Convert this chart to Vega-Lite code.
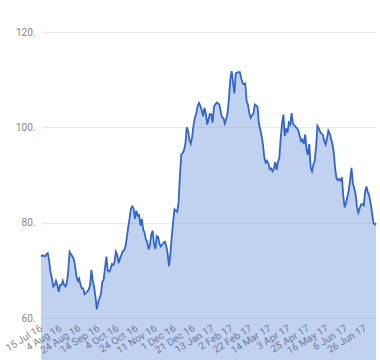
{
  "$schema": "https://vega.github.io/schema/vega-lite/v6.json",
  "width": 335,
  "height": 286,
  "autosize": {"type": "none"},
  "padding": {"left": 41, "top": 32, "right": 4, "bottom": 42},
  "background": "white",
  "config": {
    "view": {"stroke": null},
    "font": "Roboto",
    "axis": {"labelFont": "Roboto", "labelFontSize": 10, "labelColor": "#888888"}
  },
  "data": {"values": [
    {"d":"15 Jul 16","v":72.9},{"d":"18 Jul 16","v":73.2},{"d":"19 Jul 16","v":73.0},{"d":"20 Jul 16","v":72.9},{"d":"21 Jul 16","v":73.4},{"d":"22 Jul 16","v":73.6},
    {"d":"25 Jul 16","v":72.0},{"d":"26 Jul 16","v":69.6},{"d":"27 Jul 16","v":68.3},{"d":"28 Jul 16","v":66.6},{"d":"29 Jul 16","v":66.9},
    {"d":"1 Aug 16","v":67.8},{"d":"2 Aug 16","v":66.9},{"d":"3 Aug 16","v":65.5},{"d":"4 Aug 16","v":66.9},{"d":"5 Aug 16","v":66.9},
    {"d":"8 Aug 16","v":67.8},{"d":"9 Aug 16","v":66.9},{"d":"10 Aug 16","v":66.6},{"d":"11 Aug 16","v":67.5},{"d":"12 Aug 16","v":69.8},
    {"d":"15 Aug 16","v":73.9},{"d":"16 Aug 16","v":73.4},{"d":"17 Aug 16","v":72.9},{"d":"18 Aug 16","v":72.4},{"d":"19 Aug 16","v":71.0},
    {"d":"22 Aug 16","v":68.7},{"d":"23 Aug 16","v":67.8},{"d":"24 Aug 16","v":68.3},{"d":"25 Aug 16","v":67.0},{"d":"26 Aug 16","v":66.2},
    {"d":"30 Aug 16","v":66.2},{"d":"31 Aug 16","v":65.0},{"d":"1 Sep 16","v":65.2},{"d":"2 Sep 16","v":65.6},
    {"d":"5 Sep 16","v":65.9},{"d":"6 Sep 16","v":66.8},{"d":"7 Sep 16","v":70.1},{"d":"8 Sep 16","v":67.8},{"d":"9 Sep 16","v":66.5},
    {"d":"12 Sep 16","v":64.5},{"d":"13 Sep 16","v":61.8},{"d":"14 Sep 16","v":63.4},{"d":"15 Sep 16","v":64.2},{"d":"16 Sep 16","v":65.0},
    {"d":"19 Sep 16","v":67.6},{"d":"20 Sep 16","v":68.0},{"d":"21 Sep 16","v":70.5},{"d":"22 Sep 16","v":72.9},{"d":"23 Sep 16","v":70.0},
    {"d":"26 Sep 16","v":69.7},{"d":"27 Sep 16","v":70.2},{"d":"28 Sep 16","v":71.3},{"d":"29 Sep 16","v":71.1},{"d":"30 Sep 16","v":71.8},
    {"d":"3 Oct 16","v":73.9},{"d":"4 Oct 16","v":73.2},{"d":"5 Oct 16","v":71.5},{"d":"6 Oct 16","v":72.5},{"d":"7 Oct 16","v":73.2},
    {"d":"10 Oct 16","v":74.0},{"d":"11 Oct 16","v":74.2},{"d":"12 Oct 16","v":75.0},{"d":"13 Oct 16","v":76.8},{"d":"14 Oct 16","v":79.0},
    {"d":"17 Oct 16","v":80.8},{"d":"18 Oct 16","v":82.9},{"d":"19 Oct 16","v":83.4},{"d":"20 Oct 16","v":83.0},{"d":"21 Oct 16","v":80.8},
    {"d":"24 Oct 16","v":82.5},{"d":"25 Oct 16","v":81.5},{"d":"26 Oct 16","v":81.6},{"d":"27 Oct 16","v":79.4},{"d":"28 Oct 16","v":80.8},
    {"d":"31 Oct 16","v":78.6},{"d":"1 Nov 16","v":77.9},{"d":"2 Nov 16","v":76.5},{"d":"3 Nov 16","v":76.0},{"d":"4 Nov 16","v":74.4},
    {"d":"7 Nov 16","v":75.3},{"d":"8 Nov 16","v":77.6},{"d":"9 Nov 16","v":78.3},{"d":"10 Nov 16","v":75.5},{"d":"11 Nov 16","v":74.5},
    {"d":"14 Nov 16","v":77.2},{"d":"15 Nov 16","v":77.0},{"d":"16 Nov 16","v":75.6},{"d":"17 Nov 16","v":75.0},{"d":"18 Nov 16","v":75.4},
    {"d":"21 Nov 16","v":75.8},{"d":"22 Nov 16","v":76.0},{"d":"23 Nov 16","v":75.1},{"d":"24 Nov 16","v":73.5},{"d":"25 Nov 16","v":70.9},
    {"d":"28 Nov 16","v":73.4},{"d":"29 Nov 16","v":77.1},{"d":"30 Nov 16","v":80.1},{"d":"1 Dec 16","v":82.8},{"d":"2 Dec 16","v":82.5},
    {"d":"5 Dec 16","v":82.3},{"d":"6 Dec 16","v":84.2},{"d":"7 Dec 16","v":89.8},{"d":"8 Dec 16","v":94.3},{"d":"9 Dec 16","v":94.6},
    {"d":"12 Dec 16","v":95.2},{"d":"13 Dec 16","v":96.5},{"d":"14 Dec 16","v":100.0},{"d":"15 Dec 16","v":99.3},{"d":"16 Dec 16","v":97.4},
    {"d":"19 Dec 16","v":96.6},{"d":"20 Dec 16","v":98.0},{"d":"21 Dec 16","v":100.4},{"d":"22 Dec 16","v":102.0},{"d":"23 Dec 16","v":102.9},
    {"d":"28 Dec 16","v":104.4},{"d":"29 Dec 16","v":105.1},{"d":"30 Dec 16","v":104.5},
    {"d":"3 Jan 17","v":103.6},{"d":"4 Jan 17","v":102.3},{"d":"5 Jan 17","v":104.1},{"d":"6 Jan 17","v":103.0},
    {"d":"9 Jan 17","v":100.6},{"d":"10 Jan 17","v":101.7},{"d":"11 Jan 17","v":102.8},{"d":"12 Jan 17","v":102.7},{"d":"13 Jan 17","v":101.0},
    {"d":"16 Jan 17","v":104.3},{"d":"17 Jan 17","v":104.8},{"d":"18 Jan 17","v":105.2},{"d":"19 Jan 17","v":105.0},{"d":"20 Jan 17","v":104.8},
    {"d":"23 Jan 17","v":103.2},{"d":"24 Jan 17","v":102.1},{"d":"25 Jan 17","v":101.9},{"d":"26 Jan 17","v":100.8},{"d":"27 Jan 17","v":101.8},
    {"d":"30 Jan 17","v":103.0},{"d":"31 Jan 17","v":106.0},{"d":"1 Feb 17","v":110.0},{"d":"2 Feb 17","v":111.8},{"d":"3 Feb 17","v":109.5},
    {"d":"6 Feb 17","v":107.1},{"d":"7 Feb 17","v":111.3},{"d":"8 Feb 17","v":111.5},{"d":"9 Feb 17","v":111.6},{"d":"10 Feb 17","v":111.6},
    {"d":"13 Feb 17","v":110.3},{"d":"14 Feb 17","v":109.3},{"d":"15 Feb 17","v":109.0},{"d":"16 Feb 17","v":109.2},{"d":"17 Feb 17","v":105.5},
    {"d":"20 Feb 17","v":104.7},{"d":"21 Feb 17","v":102.9},{"d":"22 Feb 17","v":102.0},{"d":"23 Feb 17","v":102.6},{"d":"24 Feb 17","v":102.9},
    {"d":"27 Feb 17","v":104.8},{"d":"28 Feb 17","v":104.6},
    {"d":"1 Mar 17","v":104.3},{"d":"2 Mar 17","v":100.8},{"d":"3 Mar 17","v":99.6},
    {"d":"6 Mar 17","v":98.2},{"d":"7 Mar 17","v":96.3},{"d":"8 Mar 17","v":93.6},{"d":"9 Mar 17","v":92.6},{"d":"10 Mar 17","v":93.0},
    {"d":"13 Mar 17","v":92.4},{"d":"14 Mar 17","v":91.2},{"d":"15 Mar 17","v":91.4},{"d":"16 Mar 17","v":90.8},{"d":"17 Mar 17","v":91.3},
    {"d":"20 Mar 17","v":92.7},{"d":"21 Mar 17","v":91.1},{"d":"22 Mar 17","v":92.8},{"d":"23 Mar 17","v":93.5},{"d":"24 Mar 17","v":97.7},
    {"d":"27 Mar 17","v":100.8},{"d":"28 Mar 17","v":102.7},{"d":"29 Mar 17","v":98.2},{"d":"30 Mar 17","v":99.8},{"d":"31 Mar 17","v":98.9},
    {"d":"3 Apr 17","v":101.0},{"d":"4 Apr 17","v":100.6},{"d":"5 Apr 17","v":103.0},{"d":"6 Apr 17","v":100.8},{"d":"7 Apr 17","v":100.4},
    {"d":"10 Apr 17","v":100.1},{"d":"11 Apr 17","v":99.8},{"d":"12 Apr 17","v":99.3},{"d":"13 Apr 17","v":98.2},
    {"d":"18 Apr 17","v":97.1},{"d":"19 Apr 17","v":97.4},{"d":"20 Apr 17","v":96.5},{"d":"21 Apr 17","v":98.5},
    {"d":"24 Apr 17","v":95.4},{"d":"25 Apr 17","v":94.2},{"d":"26 Apr 17","v":96.5},{"d":"27 Apr 17","v":91.6},{"d":"28 Apr 17","v":90.8},
    {"d":"2 May 17","v":92.2},{"d":"3 May 17","v":93.0},{"d":"4 May 17","v":96.0},{"d":"5 May 17","v":100.3},
    {"d":"8 May 17","v":99.8},{"d":"9 May 17","v":99.0},{"d":"10 May 17","v":98.7},{"d":"11 May 17","v":98.4},{"d":"12 May 17","v":97.1},
    {"d":"15 May 17","v":96.4},{"d":"16 May 17","v":97.7},{"d":"17 May 17","v":99.3},{"d":"18 May 17","v":98.7},{"d":"19 May 17","v":97.6},
    {"d":"22 May 17","v":96.5},{"d":"23 May 17","v":94.7},{"d":"24 May 17","v":91.4},{"d":"25 May 17","v":89.3},{"d":"26 May 17","v":88.9},
    {"d":"30 May 17","v":89.2},{"d":"31 May 17","v":88.8},
    {"d":"1 Jun 17","v":89.5},{"d":"2 Jun 17","v":85.5},
    {"d":"5 Jun 17","v":83.2},{"d":"6 Jun 17","v":84.2},{"d":"7 Jun 17","v":85.5},{"d":"8 Jun 17","v":86.8},{"d":"9 Jun 17","v":89.0},
    {"d":"12 Jun 17","v":91.5},{"d":"13 Jun 17","v":88.3},{"d":"14 Jun 17","v":87.2},{"d":"15 Jun 17","v":86.0},{"d":"16 Jun 17","v":83.3},
    {"d":"19 Jun 17","v":82.1},{"d":"20 Jun 17","v":83.0},{"d":"21 Jun 17","v":83.8},{"d":"22 Jun 17","v":83.9},{"d":"23 Jun 17","v":83.6},
    {"d":"26 Jun 17","v":86.5},{"d":"27 Jun 17","v":87.6},{"d":"28 Jun 17","v":86.4},{"d":"29 Jun 17","v":85.7},{"d":"30 Jun 17","v":84.2},
    {"d":"3 Jul 17","v":82.2},{"d":"4 Jul 17","v":80.1},{"d":"5 Jul 17","v":79.6},{"d":"6 Jul 17","v":79.9}
  ]},
  "encoding": {
    "x": {
      "field": "d", "type": "ordinal", "sort": null,
      "scale": {"type": "point", "padding": 0},
      "axis": {
        "title": null, "domain": false, "ticks": false, "grid": false,
        "labelAngle": -32, "labelAlign": "right", "labelBaseline": "middle",
        "labelPadding": 9, "labelDx": -1, "labelOverlap": false,
        "values": ["15 Jul 16","4 Aug 16","24 Aug 16","14 Sep 16","4 Oct 16","24 Oct 16","11 Nov 16","1 Dec 16","21 Dec 16","13 Jan 17","2 Feb 17","22 Feb 17","14 Mar 17","3 Apr 17","25 Apr 17","16 May 17","6 Jun 17","26 Jun 17"]
      }
    },
    "y": {
      "field": "v", "type": "quantitative",
      "scale": {"domain": [60, 120], "nice": false, "zero": false},
      "axis": {
        "title": null, "domain": false, "ticks": false,
        "values": [60, 80, 100, 120], "labelExpr": "datum.value + '.'",
        "labelPadding": 6, "gridColor": "#ebebeb", "gridWidth": 1
      }
    }
  },
  "layer": [
    {"mark": {"type": "area", "color": "#3366cc", "opacity": 0.3}},
    {"mark": {"type": "line", "color": "#3366cc", "strokeWidth": 1.8}}
  ]
}
